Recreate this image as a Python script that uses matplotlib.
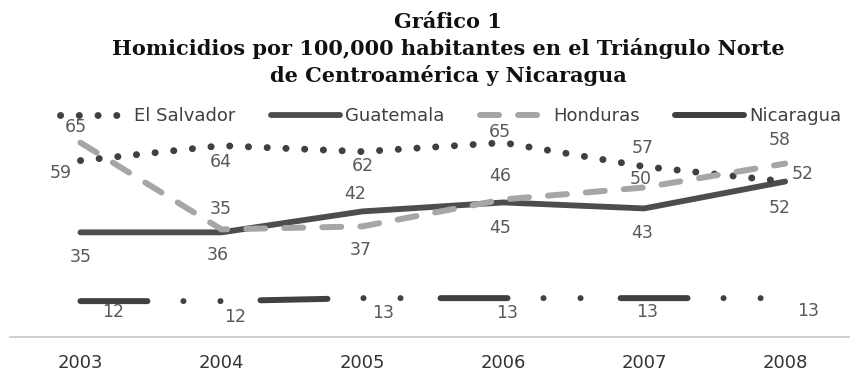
import matplotlib
matplotlib.use("Agg")
import matplotlib.pyplot as plt
from matplotlib.lines import Line2D

plt.rcParams['font.family'] = ['DejaVu Sans']
plt.rcParams['lines.scale_dashes'] = False

# data
years = ["2003", "2004", "2005", "2006", "2007", "2008"]
el_salvador = [59, 64, 62, 65, 57, 52]
guatemala = [35, 35, 42, 45, 43, 52]
honduras = [65, 36, 37, 46, 50, 58]
nicaragua = [12, 12, 13, 13, 13, 13]

# label offsets in pixels (dx, dy), dy positive = up
off_sv = [(-20, -12), (-1, -16), (0, -14), (-3, 11), (-2, 19), (18, 8)]
off_gt = [(0, -25), (-1, 23), (-7, 17), (-3, -26), (-2, -25), (-5, -26)]
off_hn = [(-5, 16), (-4, -26), (-2, -24), (-3, 23), (-4, 8), (-5, 24)]
off_ni = [(33, -11), (14, -16), (21, -15), (4, -15), (3, -14), (23, -13)]

dark = "#404040"
guat_col = "#4d4d4d"
light = "#a6a6a6"
lab_col = "#595959"

sv_style = dict(color=dark, lw=5.0, linestyle=(0, (0.1, 13.4)),
                dash_capstyle="round")
gt_style = dict(color=guat_col, lw=4.2, solid_capstyle="round",
                solid_joinstyle="round")
hn_style = dict(color=light, lw=4.3, linestyle=(0, (13.7, 13.7)),
                dash_capstyle="round")
ni_style = dict(color=dark, lw=4.3,
                linestyle=(0, (48.2, 25.9, 0.07, 26.6, 0.07, 28.8)),
                dash_capstyle="round")

fig = plt.figure(figsize=(8.5, 3.72), dpi=100)
ax = fig.add_axes([10 / 850, 35 / 372, 840 / 850, 70 * 2.99 / 372])

x = list(range(len(years)))
ax.plot(x, el_salvador, **sv_style, zorder=3)
ax.plot(x, guatemala, **gt_style, zorder=2)
ax.plot(x, honduras, **hn_style, zorder=4)
ax.plot(x, nicaragua, **ni_style, zorder=2)

for vals, offs in [(el_salvador, off_sv), (guatemala, off_gt),
                   (honduras, off_hn), (nicaragua, off_ni)]:
    for i, (v, o) in enumerate(zip(vals, offs)):
        ax.annotate(str(v), (i, v), xytext=o, textcoords="offset pixels",
                    ha="center", va="center", fontsize=12.5, color=lab_col)

ax.set_xlim(-0.5, 5.46)
ax.set_ylim(0, 70)
ax.set_xticks(x)
ax.set_xticklabels(years, fontsize=13, color="#333333")
ax.tick_params(axis="x", length=0, pad=12)
ax.set_yticks([])
for s in ["top", "left", "right"]:
    ax.spines[s].set_visible(False)
ax.spines["bottom"].set_color("#c8c8c8")
ax.spines["bottom"].set_linewidth(1.2)

# legend
handles = [
    Line2D([], [], **sv_style),
    Line2D([], [], **gt_style),
    Line2D([], [], **hn_style),
    Line2D([], [], color=dark, lw=4.3, solid_capstyle="round"),
]
names = ["El Salvador", "Guatemala", "Honduras", "Nicaragua"]
leg = fig.legend(handles, names, loc="center", ncol=4,
                 bbox_to_anchor=(451 / 850, 1 - 116 / 372),
                 frameon=False, handlelength=3.8,
                 prop={"family": "DejaVu Sans", "size": 13},
                 handletextpad=0.3, columnspacing=1.95, labelcolor=dark)

# title
title_kw = dict(ha="center", va="baseline", fontsize=15, fontweight="bold",
                family="DejaVu Serif", color="#111111")
fig.text(448 / 850, 1 - 28 / 372, "Gráfico 1", **title_kw)
fig.text(448 / 850, 1 - 55 / 372,
         "Homicidios por 100,000 habitantes en el Triángulo Norte", **title_kw)
fig.text(448 / 850, 1 - 82 / 372, "de Centroamérica y Nicaragua", **title_kw)

fig.savefig("out.png", dpi=100)
